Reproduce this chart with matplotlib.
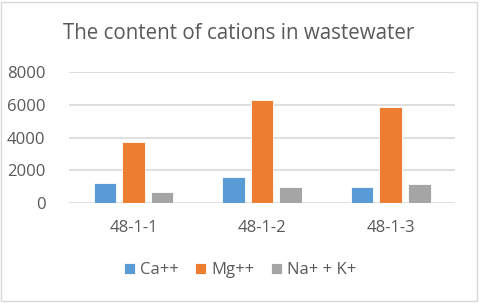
import numpy as np
import matplotlib.pyplot as plt
from matplotlib.patches import Rectangle

plt.rcParams['font.family'] = ['Open Sans', 'DejaVu Sans']

# data
samples = ['48-1-1', '48-1-2', '48-1-3']
ca = [1200, 1600, 1000]
mg = [3700, 6300, 5870]
na_k = [680, 950, 1150]
series_names = ['Ca++', 'Mg++', 'Na+ + K+']
colors = ['#5b9bd5', '#ed7d31', '#a5a5a5']
text_col = '#595959'

fig = plt.figure(figsize=(4.8, 3.03), dpi=100)
ax = fig.add_axes([0.144, 0.33, 0.804, 0.432])

x = np.arange(len(samples))
w = 0.175
step = 0.222
for k, (vals, name, c) in enumerate(zip([ca, mg, na_k], series_names, colors)):
    ax.bar(x + (k - 1) * step, vals, width=w, color=c, label=name,
           edgecolor='white', linewidth=0.6, zorder=3)

ax.set_xlim(-0.5, 2.5)
ax.set_ylim(0, 8000)
ax.set_yticks([0, 2000, 4000, 6000, 8000])
ax.yaxis.grid(True, color='#d9d9d9', linewidth=1.2, zorder=0)
ax.set_xticks(x)
ax.set_xticklabels(samples)
for s in ax.spines.values():
    s.set_visible(False)
ax.tick_params(length=0, labelsize=12, colors=text_col)
ax.tick_params(axis='x', pad=12)
ax.tick_params(axis='y', pad=17)

fig.text(0.497, 0.888, 'The content of cations in wastewater', ha='center',
         va='center', fontsize=14.8, color=text_col)

leg = fig.legend(loc='center', bbox_to_anchor=(0.5, 0.108), ncol=3, frameon=False,
                 fontsize=12, handlelength=0.65, handleheight=0.65,
                 handletextpad=0.3, columnspacing=1.0)
for t in leg.get_texts():
    t.set_color(text_col)

fig.patches.append(Rectangle((0.003, 0.007), 0.99, 0.985, transform=fig.transFigure,
                             fill=False, edgecolor='#d9d9d9', linewidth=1.0))

fig.savefig('out.png', dpi=100)
